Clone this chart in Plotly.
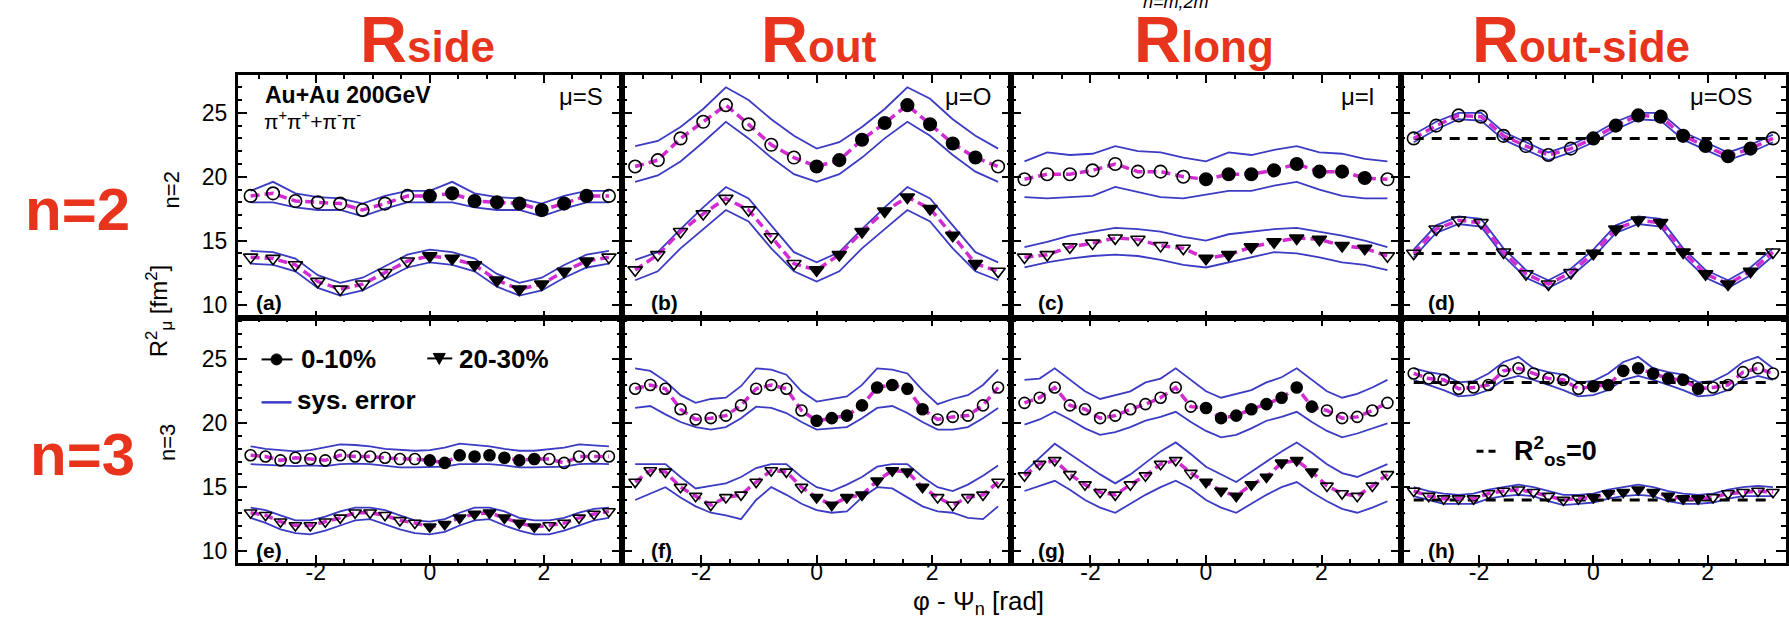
import plotly.graph_objects as go

W, H = 1789, 619
FONT = "Liberation Sans, Arial, sans-serif"
RED = "#e8341c"
BLUE = "#3b3bc4"
MAGENTA = "#d12bd1"

# azimuthal bins (rad)
PHI_N2 = [-3.1416, -2.7489, -2.3562, -1.9635, -1.5708, -1.1781, -0.7854, -0.3927, 0.0,
          0.3927, 0.7854, 1.1781, 1.5708, 1.9635, 2.3562, 2.7489, 3.1416]
PHI_N3 = [-3.1416, -2.8798, -2.6180, -2.3562, -2.0944, -1.8326, -1.5708, -1.3090, -1.0472,
          -0.7854, -0.5236, -0.2618, 0.0, 0.2618, 0.5236, 0.7854, 1.0472, 1.3090, 1.5708,
          1.8326, 2.0944, 2.3562, 2.6180, 2.8798, 3.1416]
PERIOD_N2 = 3.1416
PERIOD_N3 = 2.0944

# ---- n = 2 ----
SIDE_N2_0010 = [18.5, 18.7, 18.1, 18.0, 17.9, 17.4, 17.9, 18.5, 18.5, 18.7, 18.1, 18.0, 17.9, 17.4, 17.9, 18.5, 18.5]
SIDE_N2_0010_HI = [18.9, 19.6, 18.7, 18.4, 18.3, 17.9, 18.5, 18.9, 18.9, 19.6, 18.7, 18.4, 18.3, 17.9, 18.5, 18.9, 18.9]
SIDE_N2_0010_LO = [18.0, 18.0, 17.6, 17.4, 17.4, 16.9, 17.5, 18.0, 18.0, 18.0, 17.6, 17.4, 17.4, 16.9, 17.5, 18.0, 18.0]
SIDE_N2_2030 = [13.7, 13.6, 13.1, 11.8, 11.2, 11.6, 12.5, 13.4, 13.8, 13.6, 13.1, 11.9, 11.2, 11.6, 12.6, 13.4, 13.7]
SIDE_N2_2030_HI = [14.2, 14.1, 13.6, 12.3, 11.7, 12.1, 13.0, 13.9, 14.3, 14.1, 13.6, 12.4, 11.7, 12.1, 13.1, 13.9, 14.2]
SIDE_N2_2030_LO = [13.2, 13.1, 12.6, 11.3, 10.7, 11.1, 12.0, 12.9, 13.3, 13.1, 12.6, 11.4, 10.7, 11.1, 12.1, 12.9, 13.2]

OUT_N2_0010 = [20.8, 21.3, 23.0, 24.3, 25.6, 24.1, 22.5, 21.5, 20.8, 21.3, 22.9, 24.2, 25.6, 24.1, 22.6, 21.5, 20.8]
OUT_N2_0010_HI = [22.4, 22.8, 23.9, 25.3, 27.0, 26.0, 24.5, 23.2, 22.2, 22.7, 23.9, 25.3, 27.0, 26.1, 24.5, 23.2, 22.2]
OUT_N2_0010_LO = [19.6, 20.1, 21.2, 22.7, 24.3, 23.0, 21.5, 20.2, 19.6, 20.2, 21.5, 23.0, 24.3, 23.2, 21.7, 20.4, 19.6]
OUT_N2_2030 = [12.7, 13.9, 15.7, 17.1, 18.3, 17.4, 15.3, 13.2, 12.7, 13.9, 15.7, 17.3, 18.4, 17.5, 15.4, 13.2, 12.6]
OUT_N2_2030_HI = [13.5, 14.1, 15.9, 17.6, 19.2, 18.3, 16.2, 14.1, 13.3, 14.1, 15.9, 17.6, 19.2, 18.3, 16.2, 14.1, 13.3]
OUT_N2_2030_LO = [11.9, 12.6, 14.4, 15.9, 17.4, 16.5, 14.4, 12.6, 11.8, 12.6, 14.4, 15.9, 17.4, 16.5, 14.4, 12.6, 11.9]

LONG_N2_0010 = [19.8, 20.2, 20.2, 20.5, 21.0, 20.4, 20.4, 20.0, 19.8, 20.2, 20.2, 20.5, 21.0, 20.4, 20.4, 19.9, 19.8]
LONG_N2_0010_HI = [21.2, 21.9, 21.7, 21.8, 22.4, 22.0, 21.9, 21.5, 21.2, 21.9, 21.7, 22.1, 22.4, 21.9, 21.8, 21.4, 21.2]
LONG_N2_0010_LO = [18.4, 18.3, 18.4, 18.5, 19.2, 18.8, 18.4, 18.3, 18.6, 18.9, 18.9, 19.3, 19.6, 19.0, 18.5, 18.3, 18.3]
LONG_N2_2030 = [13.7, 13.9, 14.5, 14.8, 15.2, 15.1, 14.6, 14.4, 13.6, 13.9, 14.5, 14.9, 15.2, 15.1, 14.6, 14.4, 13.8]
LONG_N2_2030_HI = [14.5, 14.9, 15.4, 15.7, 16.0, 15.9, 15.7, 15.3, 15.0, 15.5, 15.7, 15.9, 16.0, 15.7, 15.4, 15.0, 14.5]
LONG_N2_2030_LO = [12.9, 13.3, 13.6, 13.8, 13.9, 13.8, 13.5, 13.1, 12.9, 13.3, 13.7, 14.1, 14.0, 13.7, 13.3, 13.1, 12.7]

OS_N2_0010 = [23.0, 24.0, 24.8, 24.7, 23.2, 22.4, 21.7, 22.2, 23.0, 24.0, 24.8, 24.7, 23.2, 22.4, 21.6, 22.2, 23.0]
OS_N2_0010_HI = [23.3, 24.3, 25.0, 25.0, 23.5, 22.7, 21.9, 22.5, 23.3, 24.3, 25.0, 25.0, 23.5, 22.7, 21.9, 22.5, 23.3]
OS_N2_0010_LO = [22.7, 23.7, 24.5, 24.4, 22.9, 22.1, 21.3, 21.9, 22.7, 23.7, 24.5, 24.4, 22.9, 22.1, 21.3, 21.9, 22.7]
OS_N2_2030 = [14.0, 15.9, 16.6, 16.4, 14.1, 12.4, 11.6, 12.5, 14.0, 15.9, 16.6, 16.4, 14.1, 12.4, 11.6, 12.6, 14.1]
OS_N2_2030_HI = [14.3, 16.2, 16.9, 16.7, 14.4, 12.7, 11.9, 12.8, 14.3, 16.2, 16.9, 16.7, 14.4, 12.7, 11.9, 12.9, 14.4]
OS_N2_2030_LO = [13.7, 15.6, 16.3, 16.1, 13.8, 12.1, 11.3, 12.2, 13.7, 15.6, 16.3, 16.1, 13.8, 12.1, 11.3, 12.3, 13.8]
OS_ZERO_N2 = [23.0, 14.0]

# ---- n = 3 ----
SIDE_N3_0010 = [17.5, 17.4, 17.1, 17.3, 17.2, 17.1, 17.5, 17.4, 17.4, 17.3, 17.2, 17.2, 17.1, 16.9, 17.5, 17.4,
                17.5, 17.3, 17.1, 17.2, 17.2, 16.9, 17.4, 17.4, 17.4]
SIDE_N3_0010_HI = [18.2, 18.0, 17.9, 17.8, 17.9, 18.1, 18.35, 18.3, 18.2, 18.0, 17.9, 17.85, 17.9, 18.1, 18.4, 18.3,
                   18.2, 18.0, 17.85, 17.85, 17.95, 18.1, 18.35, 18.3, 18.2]
SIDE_N3_0010_LO = [16.8, 16.75, 16.7, 16.65, 16.7, 16.65, 16.8, 16.85, 16.8, 16.7, 16.55, 16.55, 16.55, 16.6, 16.8, 16.8,
                   16.8, 16.7, 16.55, 16.55, 16.6, 16.6, 16.8, 16.85, 16.8]
SIDE_N3_2030 = [13.0, 12.8, 12.3, 12.0, 12.0, 12.3, 12.6, 13.0, 13.0, 12.8, 12.4, 12.2, 11.9, 12.1, 12.6, 12.9,
                13.0, 12.6, 12.2, 11.9, 12.0, 12.2, 12.6, 12.9, 13.1]
SIDE_N3_2030_HI = [13.4, 13.2, 12.8, 12.4, 12.4, 12.7, 13.1, 13.4, 13.4, 13.2, 12.8, 12.4, 12.3, 12.5, 13.0, 13.4,
                   13.4, 13.1, 12.6, 12.4, 12.4, 12.6, 13.0, 13.3, 13.4]
SIDE_N3_2030_LO = [12.6, 12.2, 11.7, 11.4, 11.3, 11.6, 12.0, 12.4, 12.5, 12.1, 11.7, 11.4, 11.3, 11.5, 12.0, 12.4,
                   12.5, 12.0, 11.6, 11.3, 11.3, 11.6, 12.0, 12.4, 12.6]

OUT_N3_0010 = [22.7, 23.0, 22.7, 21.1, 20.3, 20.4, 20.6, 21.4, 22.7, 23.0, 22.7, 21.0, 20.2, 20.4, 20.6, 21.4,
               22.8, 23.0, 22.7, 21.1, 20.3, 20.5, 20.6, 21.4, 22.8]
OUT_N3_0010_HI = [24.3, 24.1, 23.3, 22.2, 21.6, 21.9, 22.0, 22.9, 24.3, 24.2, 23.8, 22.5, 21.7, 21.9, 22.1, 23.0,
                  24.3, 24.2, 23.9, 22.6, 21.5, 21.9, 22.2, 23.0, 24.2]
OUT_N3_0010_LO = [21.2, 21.35, 20.7, 20.1, 19.7, 19.5, 19.7, 20.4, 21.3, 21.2, 20.8, 20.1, 19.5, 19.6, 19.7, 20.4,
                  21.2, 21.35, 20.8, 20.1, 19.5, 19.5, 19.7, 20.4, 21.2]
OUT_N3_2030 = [15.4, 16.3, 16.2, 15.0, 14.3, 13.6, 14.2, 14.4, 15.4, 16.3, 16.2, 15.0, 14.2, 13.6, 14.2, 14.4,
               15.5, 16.3, 16.2, 15.0, 14.2, 13.6, 14.2, 14.4, 15.4]
OUT_N3_2030_HI = [16.8, 16.8, 16.8, 15.8, 14.9, 15.1, 15.3, 15.8, 16.5, 16.8, 16.8, 15.8, 15.0, 14.7, 15.2, 15.8,
                  16.6, 16.8, 16.8, 15.8, 15.0, 14.7, 15.2, 15.9, 16.7]
OUT_N3_2030_LO = [14.0, 14.5, 15.0, 14.2, 13.5, 13.0, 12.8, 12.5, 14.0, 15.0, 14.4, 13.7, 13.2, 13.0, 13.1, 14.2,
                  15.0, 14.9, 14.2, 13.5, 13.1, 13.0, 12.6, 12.5, 13.5]

LONG_N3_0010 = [21.6, 22.0, 22.8, 21.4, 21.1, 20.4, 20.6, 21.1, 21.5, 22.0, 22.8, 21.3, 21.2, 20.4, 20.6, 21.1,
                21.5, 22.0, 22.8, 21.3, 21.0, 20.4, 20.5, 21.0, 21.6]
LONG_N3_0010_HI = [23.4, 23.5, 24.3, 23.4, 22.5, 21.9, 22.2, 22.5, 23.2, 23.5, 24.3, 23.4, 22.5, 22.0, 22.3, 22.6,
                   23.2, 23.6, 24.3, 23.4, 22.5, 22.0, 22.3, 22.8, 23.4]
LONG_N3_0010_LO = [19.9, 20.3, 20.9, 20.3, 19.6, 19.1, 19.3, 19.7, 20.2, 20.5, 20.9, 20.1, 19.4, 18.9, 19.1, 19.6,
                   20.2, 20.5, 20.9, 20.1, 19.4, 18.9, 19.2, 19.6, 20.0]
LONG_N3_2030 = [15.9, 16.8, 17.1, 16.0, 15.2, 14.6, 14.4, 15.2, 15.9, 16.8, 17.1, 16.1, 15.4, 14.7, 14.3, 15.2,
                15.8, 16.9, 17.1, 16.2, 15.1, 14.5, 14.3, 15.1, 16.0]
LONG_N3_2030_HI = [16.2, 17.3, 18.4, 17.6, 16.8, 16.0, 15.3, 16.0, 16.9, 17.8, 18.5, 17.6, 16.6, 16.0, 15.4, 16.2,
                   17.0, 17.8, 18.5, 17.7, 16.8, 16.1, 15.8, 16.3, 16.8]
LONG_N3_2030_LO = [14.7, 15.1, 15.5, 14.8, 14.0, 13.4, 13.0, 13.7, 14.4, 15.0, 15.5, 14.9, 14.0, 13.4, 13.0, 13.7,
                   14.4, 15.0, 15.4, 14.6, 13.9, 13.3, 13.0, 13.4, 13.9]

OS_N3_0010 = [23.9, 23.5, 23.4, 22.7, 22.8, 23.0, 24.1, 24.3, 23.9, 23.5, 23.4, 22.7, 22.9, 23.0, 24.1, 24.3,
              23.9, 23.5, 23.4, 22.7, 22.8, 23.0, 24.0, 24.3, 23.9]
OS_N3_0010_HI = [24.3, 24.0, 23.8, 23.2, 23.3, 23.9, 24.8, 25.2, 24.3, 24.0, 23.8, 23.2, 23.3, 23.9, 24.8, 25.2,
                 24.3, 24.0, 23.8, 23.2, 23.3, 23.9, 24.8, 25.2, 24.3]
OS_N3_0010_LO = [23.4, 23.0, 22.6, 22.1, 22.2, 22.6, 23.4, 23.7, 23.4, 23.0, 22.6, 22.1, 22.2, 22.6, 23.4, 23.7,
                 23.4, 23.0, 22.6, 22.1, 22.2, 22.6, 23.4, 23.7, 23.4]
OS_N3_2030 = [14.7, 14.3, 14.1, 14.1, 14.1, 14.5, 14.7, 14.8, 14.6, 14.3, 14.0, 14.1, 14.2, 14.5, 14.6, 14.8,
              14.6, 14.3, 14.1, 14.1, 14.2, 14.5, 14.6, 14.7, 14.6]
OS_N3_2030_HI = [15.0, 14.7, 14.5, 14.4, 14.5, 14.8, 15.0, 15.2, 15.0, 14.7, 14.4, 14.4, 14.5, 14.8, 15.0, 15.2,
                 15.0, 14.7, 14.5, 14.4, 14.5, 14.8, 15.0, 15.1, 15.0]
OS_N3_2030_LO = [14.3, 14.0, 13.7, 13.7, 13.7, 14.1, 14.3, 14.4, 14.3, 13.9, 13.6, 13.7, 13.8, 14.1, 14.3, 14.4,
                 14.3, 13.9, 13.7, 13.7, 13.8, 14.1, 14.3, 14.3, 14.3]
OS_ZERO_N3 = [23.2, 14.0]

COLUMN_TITLES = [("R", "side"), ("R", "out"), ("R", "long"), ("R", "out-side")]
MU_LABELS = ["μ=S", "μ=O", "μ=l", "μ=OS"]
PANEL_TAGS = ["(a)", "(b)", "(c)", "(d)", "(e)", "(f)", "(g)", "(h)"]
X_TICKS = [-2, 0, 2]
X_TICK_TEXT = ["-2", "0", "2"]
Y_TICKS = [10, 15, 20, 25]

# panel geometry in pixels
COL_L = [238, 623, 1013, 1403]
COL_R = [623, 1013, 1403, 1789]
ROW_T = [75, 319]
ROW_B = [319, 564]
X_RANGE = [-3.37, 3.37]
Y_RANGES = [[8.91, 27.97], [9.06, 28.2]]


def px(x):
    return x / W


def py(y):
    return 1 - y / H


PANELS = [
    # row, col, phi, period, [(values, hi, lo, symbol)], zero lines
    (0, 0, PHI_N2, PERIOD_N2, [(SIDE_N2_0010, SIDE_N2_0010_HI, SIDE_N2_0010_LO, "circle"),
                               (SIDE_N2_2030, SIDE_N2_2030_HI, SIDE_N2_2030_LO, "triangle-down")], None),
    (0, 1, PHI_N2, PERIOD_N2, [(OUT_N2_0010, OUT_N2_0010_HI, OUT_N2_0010_LO, "circle"),
                               (OUT_N2_2030, OUT_N2_2030_HI, OUT_N2_2030_LO, "triangle-down")], None),
    (0, 2, PHI_N2, PERIOD_N2, [(LONG_N2_0010, LONG_N2_0010_HI, LONG_N2_0010_LO, "circle"),
                               (LONG_N2_2030, LONG_N2_2030_HI, LONG_N2_2030_LO, "triangle-down")], None),
    (0, 3, PHI_N2, PERIOD_N2, [(OS_N2_0010, OS_N2_0010_HI, OS_N2_0010_LO, "circle"),
                               (OS_N2_2030, OS_N2_2030_HI, OS_N2_2030_LO, "triangle-down")], OS_ZERO_N2),
    (1, 0, PHI_N3, PERIOD_N3, [(SIDE_N3_0010, SIDE_N3_0010_HI, SIDE_N3_0010_LO, "circle"),
                               (SIDE_N3_2030, SIDE_N3_2030_HI, SIDE_N3_2030_LO, "triangle-down")], None),
    (1, 1, PHI_N3, PERIOD_N3, [(OUT_N3_0010, OUT_N3_0010_HI, OUT_N3_0010_LO, "circle"),
                               (OUT_N3_2030, OUT_N3_2030_HI, OUT_N3_2030_LO, "triangle-down")], None),
    (1, 2, PHI_N3, PERIOD_N3, [(LONG_N3_0010, LONG_N3_0010_HI, LONG_N3_0010_LO, "circle"),
                               (LONG_N3_2030, LONG_N3_2030_HI, LONG_N3_2030_LO, "triangle-down")], None),
    (1, 3, PHI_N3, PERIOD_N3, [(OS_N3_0010, OS_N3_0010_HI, OS_N3_0010_LO, "circle"),
                               (OS_N3_2030, OS_N3_2030_HI, OS_N3_2030_LO, "triangle-down")], OS_ZERO_N3),
]

fig = go.Figure()
layout_axes = {}

for k, (row, col, phi, period, series, zeros) in enumerate(PANELS):
    idx = k + 1
    sfx = "" if idx == 1 else str(idx)
    xa, ya = "x" + sfx, "y" + sfx
    common = dict(showline=True, linecolor="black", linewidth=2.5, mirror="ticks",
                  ticks="inside", tickcolor="black", tickwidth=2, showgrid=False, zeroline=False,
                  tickfont=dict(family=FONT, size=23, color="black"))
    layout_axes["xaxis" + sfx] = dict(
        common, domain=[px(COL_L[col]), min(1.0, px(COL_R[col]))], range=X_RANGE, anchor=ya,
        tickmode="array", tickvals=X_TICKS, ticktext=X_TICK_TEXT, ticklen=8, ticklabelstandoff=-13,
        minor=dict(ticks="inside", ticklen=4, tickwidth=1.5, tickcolor="black", tickmode="linear", tick0=0, dtick=0.5),
        showticklabels=(row == 1))
    layout_axes["yaxis" + sfx] = dict(
        common, domain=[py(ROW_B[row]), py(ROW_T[row])], range=Y_RANGES[row], anchor=xa,
        tickmode="array", tickvals=Y_TICKS, ticklen=10, ticklabelstandoff=3,
        minor=dict(ticks="inside", ticklen=5, tickwidth=1.5, tickcolor="black", tickmode="linear", tick0=0, dtick=1),
        showticklabels=(col == 0))

    msize = 12.5 if row == 0 else 11
    # systematic error envelopes
    for vals, hi, lo, sym in series:
        for band in (hi, lo):
            fig.add_trace(go.Scatter(x=phi, y=band, mode="lines", xaxis=xa, yaxis=ya,
                                     line=dict(color=BLUE, width=1.8), hoverinfo="skip"))
    # R_os^2 = 0 reference lines
    if zeros:
        for z in zeros:
            fig.add_trace(go.Scatter(x=[phi[0], phi[-1]], y=[z, z], mode="lines", xaxis=xa, yaxis=ya,
                                     line=dict(color="black", width=3, dash="10px,8px"), hoverinfo="skip"))
    for vals, hi, lo, sym in series:
        fig.add_trace(go.Scatter(x=phi, y=vals, mode="lines", xaxis=xa, yaxis=ya,
                                 line=dict(color=MAGENTA, width=3.5, dash="9px,5px"), hoverinfo="skip"))
    for vals, hi, lo, sym in series:
        # measured bins are filled, reflected bins are open
        syms = [sym if (0 <= p < period - 1e-3) else sym + "-open" for p in phi]
        fig.add_trace(go.Scatter(x=phi, y=vals, mode="markers", xaxis=xa, yaxis=ya,
                                 marker=dict(symbol=syms, size=msize, color="black",
                                             line=dict(color="black", width=1.6))))

annotations = []
shapes = []


def text(x, y, s, size, color="black", bold=False, xanchor="center", yanchor="middle", angle=0, italic=False):
    annotations.append(dict(
        xref="paper", yref="paper", x=px(x), y=py(y), text=s, showarrow=False,
        xanchor=xanchor, yanchor=yanchor, textangle=angle,
        font=dict(family=FONT, size=size, color=color, weight="bold" if bold else "normal",
                  style="italic" if italic else "normal")))


# column headers
title_x = [428, 820, 1206, 1584]
for (big, sub), cx in zip(COLUMN_TITLES, title_x):
    text(cx, 40, f"{big}<span style='font-size:44px'>{sub}</span>", 65, color=RED, bold=True)
text(1178, 2, "n=m,2m", 18, italic=True)

# row headers
text(78, 210, "n=2", 60, color=RED, bold=True)
text(83, 455, "n=3", 60, color=RED, bold=True)
text(172, 190, "n=2", 22, angle=-90)
text(168, 443, "n=3", 22, angle=-90)
text(160, 312, "R<sup>2</sup><sub>μ</sub> [fm<sup>2</sup>]", 24, angle=-90)
text(980, 603, "φ - Ψ<sub>n</sub> [rad]", 26)

# panel labels
text(263, 95, "Au+Au 200GeV", 23, bold=True, xanchor="left")
text(262, 120, "π<sup>+</sup>π<sup>+</sup>+π<sup>-</sup>π<sup>-</sup>", 21, xanchor="left")
mu_right = [606, 996, 1378, 1758]
for lab, xr in zip(MU_LABELS, mu_right):
    text(xr, 97, lab, 24, xanchor="right")
tag_off = [16, 27, 25, 25]
for k, tag in enumerate(PANEL_TAGS):
    row, col = divmod(k, 4)
    text(COL_L[col] + tag_off[col], 303 if row == 0 else 551, tag, 21, bold=True, xanchor="left")

# legend in panel (e)
shapes.append(dict(type="line", xref="paper", yref="paper", x0=px(262), x1=px(293), y0=py(360), y1=py(360),
                   line=dict(color="black", width=2)))
shapes.append(dict(type="circle", xref="paper", yref="paper", x0=px(271.5), x1=px(282.5), y0=py(365.5), y1=py(354.5),
                   fillcolor="black", line=dict(color="black", width=1)))
text(300, 360, "0-10%", 26, bold=True, xanchor="left")
shapes.append(dict(type="line", xref="paper", yref="paper", x0=px(428), x1=px(453), y0=py(359), y1=py(359),
                   line=dict(color="black", width=2)))
tri = [(434, 354), (446, 354), (440, 365)]
shapes.append(dict(type="path", xref="paper", yref="paper",
                   path="M {} {} L {} {} L {} {} Z".format(px(tri[0][0]), py(tri[0][1]), px(tri[1][0]), py(tri[1][1]),
                                                           px(tri[2][0]), py(tri[2][1])),
                   fillcolor="black", line=dict(color="black", width=1)))
text(458, 360, "20-30%", 26, bold=True, xanchor="left")
shapes.append(dict(type="line", xref="paper", yref="paper", x0=px(262), x1=px(292), y0=py(403), y1=py(403),
                   line=dict(color=BLUE, width=2.5)))
text(295, 401, "sys. error", 26, bold=True, xanchor="left")

# legend in panel (h)
shapes.append(dict(type="line", xref="paper", yref="paper", x0=px(1479), x1=px(1499), y0=py(452), y1=py(452),
                   line=dict(color="black", width=3, dash="7px,5px")))
text(1515, 452, "R<sup>2</sup><sub>os</sub>=0", 27, bold=True, xanchor="left")

fig.update_layout(
    width=W, height=H, margin=dict(l=0, r=0, t=0, b=0),
    paper_bgcolor="white", plot_bgcolor="white", showlegend=False,
    annotations=annotations, shapes=shapes, **layout_axes)

fig.write_html("out.html")
